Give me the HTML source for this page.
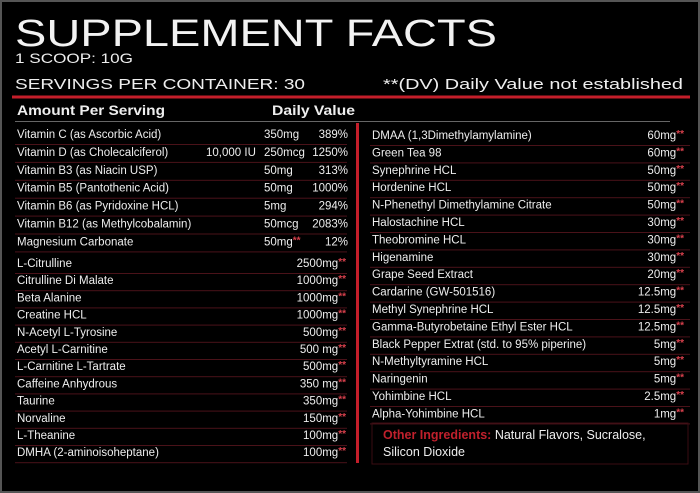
<!DOCTYPE html>
<html><head><meta charset="utf-8"><style>
html,body{margin:0;padding:0;background:#000;}
svg{display:block}
text{font-family:"Liberation Sans",sans-serif;fill:#eee}
.r{font-size:11.5px}
.s{fill:#d8404c;font-size:10px;font-weight:bold}
</style></head><body>
<svg width="700" height="493" viewBox="0 0 700 493">
<rect x="0" y="0" width="700" height="493" fill="#555"/>
<rect x="2" y="2" width="696" height="489" fill="#000"/>
<text x="15" y="46" font-size="38" textLength="482" lengthAdjust="spacingAndGlyphs" style="fill:#f2f2f2">SUPPLEMENT FACTS</text>
<text x="15" y="63" font-size="14" textLength="118" lengthAdjust="spacingAndGlyphs">1 SCOOP: 10G</text>
<text x="15" y="89" font-size="15" textLength="290" lengthAdjust="spacingAndGlyphs">SERVINGS PER CONTAINER: 30</text>
<text x="383" y="89" font-size="15" textLength="300" lengthAdjust="spacingAndGlyphs">**(DV) Daily Value not established</text>
<rect x="12" y="95.5" width="678" height="3" fill="#c41e2a"/>
<text x="17" y="115" font-size="14" font-weight="bold" textLength="148" lengthAdjust="spacingAndGlyphs">Amount Per Serving</text>
<text x="272" y="115" font-size="14" font-weight="bold" textLength="83" lengthAdjust="spacingAndGlyphs">Daily Value</text>
<rect x="15" y="121" width="655" height="1" fill="#666"/>
<rect x="356" y="123" width="3" height="340" fill="#c41e2a"/>
<g class="r" id="rows"></g>
<rect x="372" y="423" width="316" height="41" fill="none" stroke="#3a0d12" stroke-width="1"/>
<text x="383" y="439" font-size="12.5"><tspan style="fill:#c0202c;font-weight:bold">Other Ingredients:</tspan> Natural Flavors, Sucralose,</text>
<text x="383" y="456" font-size="12.5">Silicon Dioxide</text>
</svg>
<script>
var ns="http://www.w3.org/2000/svg",g=document.getElementById("rows");
function t(x,y,s,anchor){var e=document.createElementNS(ns,"text");e.setAttribute("x",x);e.setAttribute("y",y);e.setAttribute("class","r");if(anchor)e.setAttribute("text-anchor",anchor);
var m=s.match(/^(.*?)(\*\*)?$/);var a=document.createElementNS(ns,"tspan");a.textContent=m[1];e.appendChild(a);
if(m[2]){var b=document.createElementNS(ns,"tspan");b.setAttribute("class","s");b.setAttribute("dy","-2");b.textContent="**";e.appendChild(b);}
g.appendChild(e);}
function ln(x,y,w){var r=document.createElementNS(ns,"rect");r.setAttribute("x",x);r.setAttribute("y",y);r.setAttribute("width",w);r.setAttribute("height",1);r.setAttribute("fill","#4a1219");g.appendChild(r);}
var A=[["Vitamin C (as Ascorbic Acid)","","350mg","389%"],["Vitamin D (as Cholecalciferol)","10,000 IU","250mcg","1250%"],["Vitamin B3 (as Niacin USP)","","50mg","313%"],["Vitamin B5 (Pantothenic Acid)","","50mg","1000%"],["Vitamin B6 (as Pyridoxine HCL)","","5mg","294%"],["Vitamin B12 (as Methylcobalamin)","","50mcg","2083%"],["Magnesium Carbonate","","50mg**","12%"]];
A.forEach(function(r,i){var y=138+i*17.9;t(17,y,r[0]);if(r[1])t(206,y,r[1]);t(264,y,r[2]);t(348,y,r[3],"end");ln(15,y+6,332);});
var B=[["L-Citrulline","2500mg**"],["Citrulline Di Malate","1000mg**"],["Beta Alanine","1000mg**"],["Creatine HCL","1000mg**"],["N-Acetyl L-Tyrosine","500mg**"],["Acetyl L-Carnitine","500 mg**"],["L-Carnitine L-Tartrate","500mg**"],["Caffeine Anhydrous","350 mg**"],["Taurine","350mg**"],["Norvaline","150mg**"],["L-Theanine","100mg**"],["DMHA (2-aminoisoheptane)","100mg**"]];
B.forEach(function(r,i){var y=267+i*17.2;t(17,y,r[0]);t(346,y,r[1],"end");ln(15,y+6,332);});
var C=[["DMAA (1,3Dimethylamylamine)","60mg**"],["Green Tea 98","60mg**"],["Synephrine HCL","50mg**"],["Hordenine HCL","50mg**"],["N-Phenethyl Dimethylamine Citrate","50mg**"],["Halostachine HCL","30mg**"],["Theobromine HCL","30mg**"],["Higenamine","30mg**"],["Grape Seed Extract","20mg**"],["Cardarine (GW-501516)","12.5mg**"],["Methyl Synephrine HCL","12.5mg**"],["Gamma-Butyrobetaine Ethyl Ester HCL","12.5mg**"],["Black Pepper Extrat (std. to 95% piperine)","5mg**"],["N-Methyltyramine HCL","5mg**"],["Naringenin","5mg**"],["Yohimbine HCL","2.5mg**"],["Alpha-Yohimbine HCL","1mg**"]];
C.forEach(function(r,i){var y=139+i*17.4;t(372,y,r[0]);t(684,y,r[1],"end");ln(370,y+6,320);});
</script>
</body></html>
